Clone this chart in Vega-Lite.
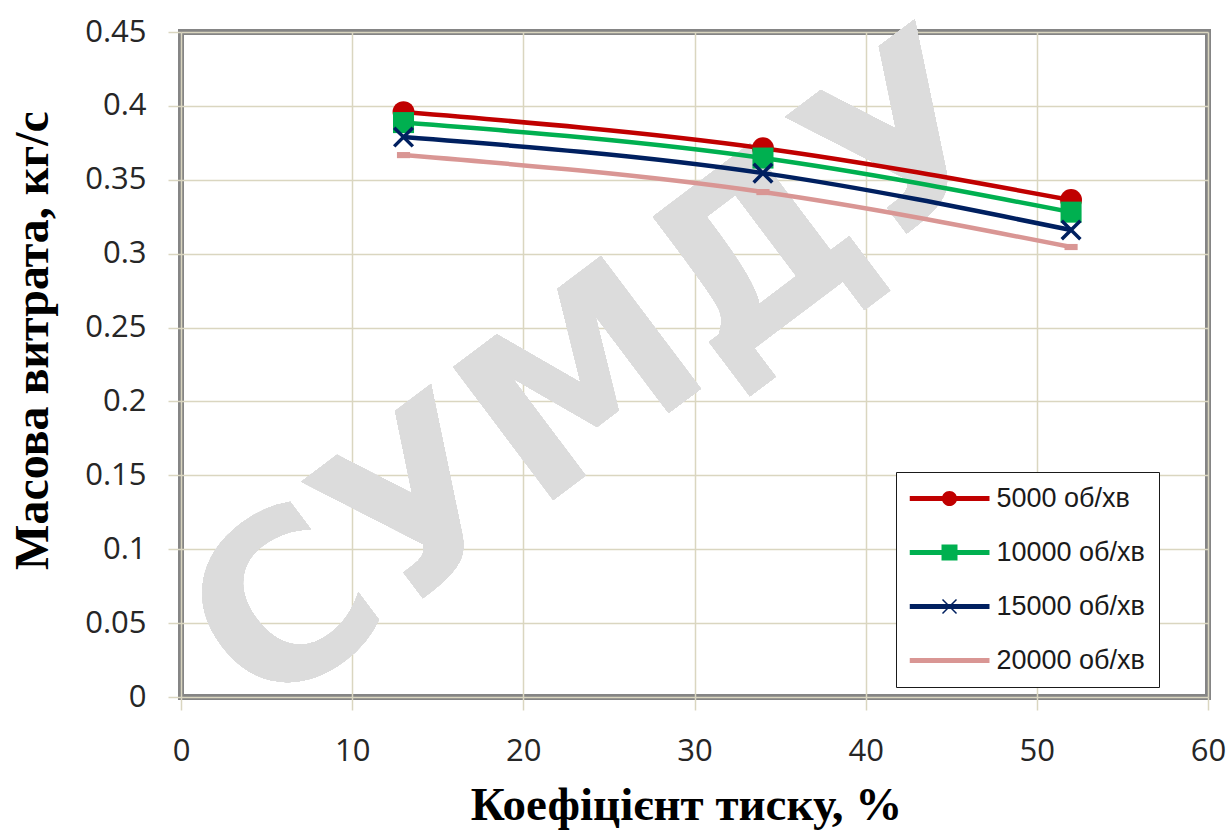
{
  "$schema": "https://vega.github.io/schema/vega-lite/v6.json",
  "width": 1027,
  "height": 665,
  "autosize": "none",
  "padding": {"left": 181, "top": 32, "right": 24, "bottom": 134},
  "background": "white",
  "config": {
    "view": {"stroke": "#858585", "strokeWidth": 6},
    "axis": {
      "domain": false,
      "grid": true,
      "gridColor": "#DAD6C0",
      "gridWidth": 1.5,
      "tickColor": "#DAD6C0",
      "tickWidth": 1.5,
      "tickSize": 13,
      "labelFont": "Open Sans",
      "labelFontSize": 31,
      "labelColor": "#262626",
      "labelFlush": false,
      "labelOverlap": false,
      "titleFont": "Liberation Serif",
      "titleFontWeight": "bold",
      "titleColor": "#000000"
    }
  },
  "data": {
    "values": [
      {"x": 13, "y": 0.3958, "series": "5000 об/хв"},
      {"x": 34, "y": 0.3714, "series": "5000 об/хв"},
      {"x": 52, "y": 0.3363, "series": "5000 об/хв"},
      {"x": 13, "y": 0.3887, "series": "10000 об/хв"},
      {"x": 34, "y": 0.3647, "series": "10000 об/хв"},
      {"x": 52, "y": 0.3281, "series": "10000 об/хв"},
      {"x": 13, "y": 0.3789, "series": "15000 об/хв"},
      {"x": 34, "y": 0.3545, "series": "15000 об/хв"},
      {"x": 52, "y": 0.316, "series": "15000 об/хв"},
      {"x": 13, "y": 0.3667, "series": "20000 об/хв"},
      {"x": 34, "y": 0.3417, "series": "20000 об/хв"},
      {"x": 52, "y": 0.3045, "series": "20000 об/хв"}
    ]
  },
  "encoding": {
    "x": {
      "field": "x",
      "type": "quantitative",
      "scale": {"domain": [0, 60], "nice": false},
      "axis": {
        "values": [0, 10, 20, 30, 40, 50, 60],
        "labelPadding": 26,
        "title": "Коефіцієнт тиску, %",
        "titleFontSize": 47,
        "titleX": 505,
        "titleY": 122,
        "titleAlign": "center",
        "titleBaseline": "alphabetic"
      }
    },
    "y": {
      "field": "y",
      "type": "quantitative",
      "scale": {"domain": [0, 0.45], "nice": false},
      "axis": {
        "values": [0, 0.05, 0.1, 0.15, 0.2, 0.25, 0.3, 0.35, 0.4, 0.45],
        "format": "~g",
        "labelPadding": 22,
        "title": "Масова витрата, кг/с",
        "titleFontSize": 48,
        "titleAngle": -90,
        "titleX": -134,
        "titleY": 308,
        "titleAlign": "center",
        "titleBaseline": "alphabetic"
      }
    }
  },
  "layer": [
    {
      "mark": {"type": "text", "font": "DejaVu Sans", "fontWeight": "bold", "fontSize": 228, "angle": -37, "color": "#dcdcdc", "align": "center", "baseline": "middle"},
      "encoding": {
        "x": {"datum": 24.5},
        "y": {"datum": 0.215},
        "text": {"value": "СУМДУ"}
      }
    },
    {
      "mark": {"type": "line", "interpolate": "monotone", "strokeWidth": 4.5, "strokeCap": "round"},
      "encoding": {
        "color": {
          "field": "series",
          "type": "nominal",
          "scale": {"domain": ["5000 об/хв", "10000 об/хв", "15000 об/хв", "20000 об/хв"], "range": ["#C00000", "#00B050", "#002060", "#D99694"]},
          "legend": null
        }
      }
    },
    {
      "mark": {"type": "point", "filled": true, "opacity": 1, "size": 480, "strokeWidth": 0},
      "encoding": {
        "color": {
          "field": "series",
          "type": "nominal",
          "scale": {"domain": ["5000 об/хв", "10000 об/хв", "15000 об/хв", "20000 об/хв"], "range": ["#C00000", "#00B050", "#002060", "#D99694"]},
          "legend": null
        },
        "shape": {
          "field": "series",
          "type": "nominal",
          "scale": {"domain": ["5000 об/хв", "10000 об/хв", "15000 об/хв", "20000 об/хв"], "range": ["circle", "M-0.96,-0.96H0.96V0.96H-0.96Z", "M-0.737,-0.963L0.963,0.737L0.737,0.963L-0.963,-0.737ZM-0.737,0.963L-0.963,0.737L0.737,-0.963L0.963,-0.737Z", "M-0.6,-0.28H0.6V0.28H-0.6Z"]},
          "legend": null
        }
      }
    },
    {
      "mark": {"type": "point", "filled": true, "opacity": 0},
      "encoding": {
        "color": {
          "field": "series",
          "type": "nominal",
          "scale": {"domain": ["5000 об/хв", "10000 об/хв", "15000 об/хв", "20000 об/хв"], "range": ["#C00000", "#00B050", "#002060", "#D99694"]},
          "legend": {
            "orient": "none", "legendX": 715, "legendY": 440, "title": null,
            "fillColor": "white", "strokeColor": "#1a1a1a", "padding": 13.5,
            "symbolSize": 6400, "symbolStrokeWidth": 0, "symbolOpacity": 1,
            "labelFont": "Liberation Sans", "labelFontSize": 27, "labelColor": "#1a1a1a",
            "labelOffset": 7, "rowPadding": 27, "clipHeight": 26
          }
        },
        "shape": {
          "field": "series",
          "type": "nominal",
          "scale": {"domain": ["5000 об/хв", "10000 об/хв", "15000 об/хв", "20000 об/хв"], "range": [
            "M-1,-0.06H1V0.06H-1ZM-0.19,0A0.19,0.19 0 1,1 0.19,0A0.19,0.19 0 1,1 -0.19,0Z",
            "M-1,-0.06H1V0.06H-1ZM-0.2,-0.2H0.2V0.2H-0.2Z",
            "M-1,-0.06H1V0.06H-1ZM-0.162,-0.188L0.188,0.162L0.162,0.188L-0.188,-0.162ZM-0.162,0.188L-0.188,0.162L0.162,-0.188L0.188,-0.162Z",
            "M-1,-0.06H1V0.06H-1Z"
          ]},
          "legend": {
            "orient": "none", "legendX": 715, "legendY": 440, "title": null,
            "fillColor": "white", "strokeColor": "#1a1a1a", "padding": 13.5,
            "symbolSize": 6400, "symbolStrokeWidth": 0, "symbolOpacity": 1,
            "labelFont": "Liberation Sans", "labelFontSize": 27, "labelColor": "#1a1a1a",
            "labelOffset": 7, "rowPadding": 27, "clipHeight": 26
          }
        }
      }
    }
  ],
  "resolve": {"scale": {"color": "independent", "shape": "independent"}}
}
